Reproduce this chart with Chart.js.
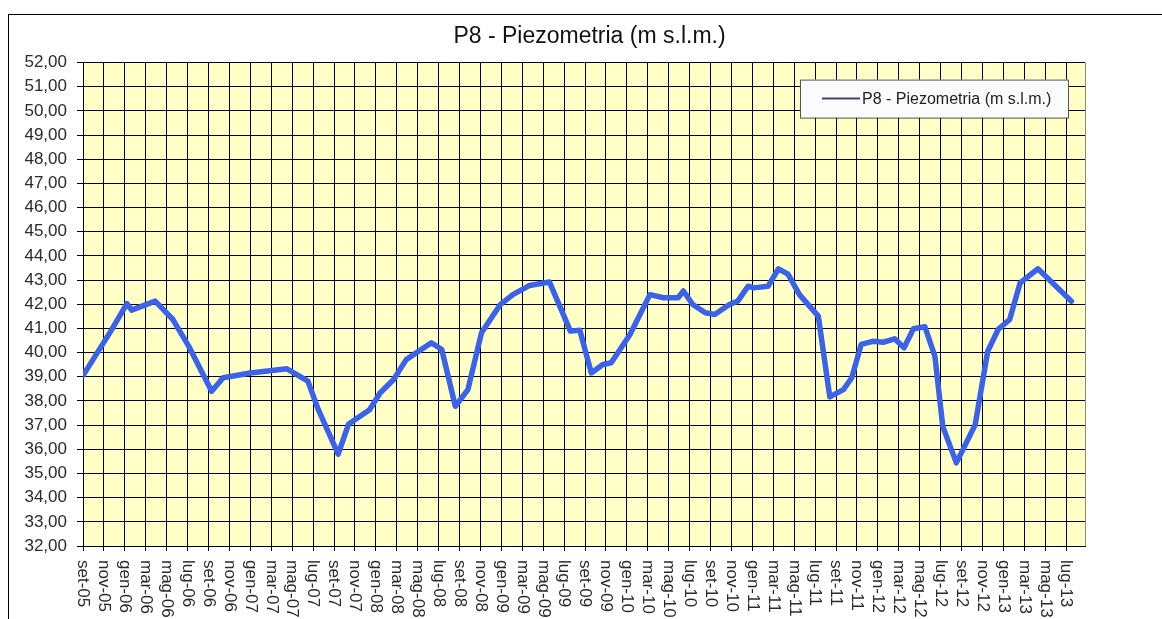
<!DOCTYPE html>
<html>
<head>
<meta charset="utf-8">
<title>P8 - Piezometria</title>
<script src="https://cdn.jsdelivr.net/npm/chart.js@4.4.1/dist/chart.umd.min.js"></script>
<style>
    html, body { margin: 0; padding: 0; background: #fff; overflow: hidden; }
    #frame {
        position: absolute;
        left: 8px;
        top: 14px;
        width: 1170px;
        height: 620px;
        border-left: 1px solid #000;
        border-top: 1px solid #000;
    }
    #piezoChart { display: block; }
</style>
</head>
<body>
<div id="frame">
    <canvas id="piezoChart" width="1161" height="604"></canvas>
</div>
<script>
// months counted from set-05 (0) and measured water level, m s.l.m.
const months = [
    0, 2.6, 4.2, 4.65, 6.9, 8.6, 10.1, 12.3, 13.4, 16.0,
    19.5, 21.5, 22.5, 24.4, 25.4, 27.4, 28.4, 29.7, 30.9, 33.3,
    34.3, 35.6, 36.8, 38.1, 39.9, 41.1, 42.7, 44.6, 46.6, 47.5,
    48.6, 49.7, 50.5, 52.3, 54.2, 55.5, 56.9, 57.4, 58.3, 59.5,
    60.4, 61.8, 62.6, 63.6, 64.1, 65.5, 66.5, 67.4, 68.5, 70.3,
    71.4, 72.7, 73.5, 74.4, 75.5, 76.5, 77.6, 78.5, 79.4, 80.5,
    81.45, 82.2, 83.5, 85.3, 86.5, 87.5, 88.6, 89.6, 91.3, 94.5
];
const levels = [
    39.05, 40.85, 42.03, 41.76, 42.13, 41.37, 40.27, 38.40, 38.96, 39.16,
    39.33, 38.82, 37.64, 35.80, 37.05, 37.64, 38.33, 38.89, 39.71, 40.41,
    40.13, 37.78, 38.47, 40.82, 41.99, 42.40, 42.78, 42.92, 40.89, 40.93,
    39.16, 39.51, 39.58, 40.75, 42.40, 42.27, 42.27, 42.55, 41.99, 41.65,
    41.58, 41.99, 42.13, 42.75, 42.68, 42.75, 43.47, 43.25, 42.40, 41.51,
    38.17, 38.47, 38.96, 40.34, 40.47, 40.43, 40.57, 40.20, 40.99, 41.07,
    39.85, 36.95, 35.44, 37.02, 40.06, 40.96, 41.37, 42.89, 43.47, 42.13
];
// one label every two months
const tickLabels = [
    'set-05', 'nov-05', 'gen-06', 'mar-06', 'mag-06', 'lug-06', 'set-06', 'nov-06',
    'gen-07', 'mar-07', 'mag-07', 'lug-07', 'set-07', 'nov-07', 'gen-08', 'mar-08',
    'mag-08', 'lug-08', 'set-08', 'nov-08', 'gen-09', 'mar-09', 'mag-09', 'lug-09',
    'set-09', 'nov-09', 'gen-10', 'mar-10', 'mag-10', 'lug-10', 'set-10', 'nov-10',
    'gen-11', 'mar-11', 'mag-11', 'lug-11', 'set-11', 'nov-11', 'gen-12', 'mar-12',
    'mag-12', 'lug-12', 'set-12', 'nov-12', 'gen-13', 'mar-13', 'mag-13', 'lug-13'
];
const seriesName = 'P8 - Piezometria (m s.l.m.)';

const FONT = "'Liberation Sans', Arial, sans-serif";

// pale yellow plot background and right edge
const plotBackground = {
    id: 'plotBackground',
    beforeDraw(chart) {
        const { ctx, chartArea: a } = chart;
        ctx.save();
        ctx.fillStyle = '#ffffc6';
        ctx.fillRect(a.left, a.top, a.right - a.left, a.bottom - a.top);
        ctx.strokeStyle = '#8a8a7a';
        ctx.lineWidth = 1;
        ctx.beginPath();
        ctx.moveTo(Math.round(a.right) + 0.5, a.top);
        ctx.lineTo(Math.round(a.right) + 0.5, a.bottom);
        ctx.stroke();
        ctx.restore();
    }
};

// month labels written downwards under each tick
const verticalLabels = {
    id: 'verticalLabels',
    afterDraw(chart) {
        const { ctx, chartArea: a } = chart;
        const x = chart.scales.x;
        ctx.save();
        ctx.font = '17px ' + FONT;
        ctx.fillStyle = '#2a2a2a';
        ctx.textAlign = 'left';
        ctx.textBaseline = 'middle';
        tickLabels.forEach((lab, i) => {
            ctx.save();
            ctx.translate(x.getPixelForValue(i * 2), a.bottom + 14);
            ctx.rotate(Math.PI / 2);
            ctx.fillText(lab, 0, 0);
            ctx.restore();
        });
        ctx.restore();
    }
};

// legend box in the top right corner of the plot
const boxLegend = {
    id: 'boxLegend',
    afterDraw(chart) {
        const { ctx, chartArea: a } = chart;
        const ds = chart.data.datasets[0];
        const left = a.right - 285, top = a.top + 17, w = 268, h = 38;
        ctx.save();
        ctx.fillStyle = '#fbfbfe';
        ctx.fillRect(left, top, w, h);
        ctx.strokeStyle = '#555';
        ctx.lineWidth = 1;
        ctx.strokeRect(left + 0.5, top + 0.5, w, h);
        ctx.strokeStyle = '#3a4670';
        ctx.lineWidth = 2;
        ctx.beginPath();
        ctx.moveTo(left + 22, top + 19);
        ctx.lineTo(left + 60, top + 19);
        ctx.stroke();
        ctx.font = '16px ' + FONT;
        ctx.fillStyle = '#222';
        ctx.textAlign = 'left';
        ctx.textBaseline = 'middle';
        ctx.fillText(ds.label, left + 62, top + 20);
        ctx.restore();
    }
};

const ctx = document.getElementById('piezoChart').getContext('2d');
const piezoChart = new Chart(ctx, {
    type: 'line',
    data: {
        datasets: [{
            label: seriesName,
            data: months.map((m, i) => ({ x: m, y: levels[i] })),
            borderColor: '#3a62eb',
            borderWidth: 5.5,
            borderJoinStyle: 'round',
            borderCapStyle: 'round',
            pointRadius: 0,
            tension: 0,
            fill: false
        }]
    },
    options: {
        responsive: false,
        animation: false,
        events: [],
        layout: { padding: { top: 0, left: 0, right: 0, bottom: 68 } },
        plugins: {
            legend: { display: false },
            tooltip: { enabled: false },
            title: {
                display: true,
                text: seriesName,
                color: '#111',
                font: { family: FONT, size: 23, weight: 'normal' },
                padding: { top: 8, bottom: 12 }
            }
        },
        scales: {
            x: {
                type: 'linear',
                min: 0,
                max: 95.8,
                afterBuildTicks: axis => {
                    axis.ticks = tickLabels.map((_, i) => ({ value: i * 2 }));
                },
                grid: { color: '#000', lineWidth: 1, tickLength: 5, drawTicks: true },
                border: { color: '#000', width: 1 },
                ticks: { display: false }
            },
            y: {
                min: 32,
                max: 52,
                afterFit: s => { s.width = 74; },
                grid: { color: '#000', lineWidth: 1, tickLength: 6 },
                border: { color: '#000', width: 1 },
                ticks: {
                    stepSize: 1,
                    padding: 10,
                    color: '#2a2a2a',
                    font: { family: FONT, size: 17 },
                    callback: v => v.toFixed(2).replace('.', ',')
                }
            },
            // empty strip on the right, keeps the title centred on the frame
            yPad: {
                position: 'right',
                min: 0,
                max: 1,
                afterFit: s => { s.width = 85; },
                grid: { display: false },
                border: { display: false },
                ticks: { display: false }
            }
        }
    },
    plugins: [plotBackground, verticalLabels, boxLegend]
});
</script>
</body>
</html>
